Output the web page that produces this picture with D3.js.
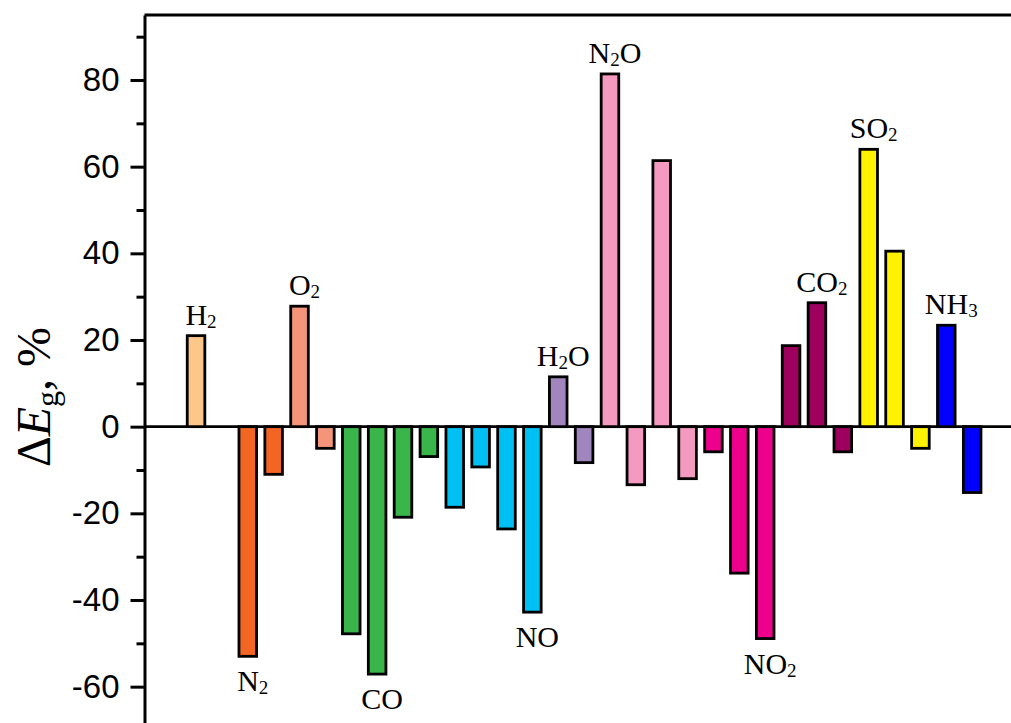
<!DOCTYPE html>
<html>
<head>
<meta charset="utf-8">
<script src="https://cdn.jsdelivr.net/npm/d3@7"></script>
<style>
  html, body { margin: 0; padding: 0; background: #fff; }
  svg { display: block; }
</style>
</head>
<body>
<svg id="chart" width="1011" height="723"></svg>
<script>
// Gas species, in plotting order ("_" marks the next character as a subscript)
const gases = ["H_2", "N_2", "O_2", "CO", "NO", "H_2O", "N_2O", "NO_2", "CO_2", "SO_2", "NH_3"];
// ΔEg (%) for each adsorption configuration of every gas (null = no bar)
const deltaEg = [
  [21.0, null],
  [-53.0, -11.0],
  [27.8, -5.0],
  [-47.8, -57.1, -20.9, -6.9],
  [-18.6, -9.3, -23.6, -42.8],
  [11.5, -8.3],
  [81.4, -13.4, 61.4, -12.0],
  [-5.8, -33.8, -48.9],
  [18.7, 28.6, -5.8],
  [64.0, 40.5, -5.0],
  [23.4, -15.2]
];
const gasColors = ["#FDC68A", "#F26522", "#F4957A", "#39B54A", "#00BFF3", "#A186BE",
                   "#F49AC1", "#EC008C", "#9E005D", "#FFF200", "#0000FF"];
const majorTicks = [-60, -40, -20, 0, 20, 40, 60, 80];
const minorTicks = [-70, -50, -30, -10, 10, 30, 50, 70, 90];

const W = 1011, H = 723;
const axisX = 144.5;
const svg = d3.select("#chart");

// one slot per bar, gases kept in sequence
const slots = [];
deltaEg.forEach((vals, g) => vals.forEach((v, k) => slots.push({ id: g + "-" + k, gas: g, k, value: v })));

const pad = 0.32;
const x = d3.scaleBand()
  .domain(slots.map(s => s.id))
  .range([183.1, 985.1])
  .paddingInner(pad)
  .paddingOuter(pad / 2);

const y = d3.scaleLinear().domain([-70, 95]).range([730, 15]);

// top frame line
svg.append("line")
  .attr("x1", axisX).attr("x2", W)
  .attr("y1", y(95)).attr("y2", y(95))
  .attr("stroke", "#000").attr("stroke-width", 3);

// zero line
svg.append("line")
  .attr("x1", axisX).attr("x2", W)
  .attr("y1", y(0)).attr("y2", y(0))
  .attr("stroke", "#000").attr("stroke-width", 2.6);

// bars
const bars = slots.filter(s => s.value !== null);
svg.append("g").selectAll("rect")
  .data(bars)
  .join("rect")
  .attr("x", d => x(d.id))
  .attr("width", x.bandwidth())
  .attr("y", d => y(Math.max(0, d.value)))
  .attr("height", d => Math.abs(y(d.value) - y(0)))
  .attr("fill", d => gasColors[d.gas])
  .attr("stroke", "#000")
  .attr("stroke-width", 2.8);

// y axis: major ticks with labels
const yAxis = svg.append("g")
  .attr("transform", `translate(${axisX},0)`)
  .call(d3.axisLeft(y).tickValues(majorTicks).tickSize(14).tickSizeOuter(0).tickPadding(11)
    .tickFormat(d => String(d)));
yAxis.select(".domain").attr("stroke-width", 3);
yAxis.selectAll(".tick line").attr("stroke-width", 3);
yAxis.selectAll(".tick text")
  .attr("font-family", "'Liberation Sans', Arial, sans-serif")
  .attr("font-size", 33)
  .attr("fill", "#000");

// minor ticks
const yMinor = svg.append("g")
  .attr("transform", `translate(${axisX},0)`)
  .call(d3.axisLeft(y).tickValues(minorTicks).tickSize(8).tickSizeOuter(0).tickFormat(""));
yMinor.select(".domain").remove();
yMinor.selectAll(".tick line").attr("stroke-width", 3);

// writes a formula such as "N_2O" into a text element with subscript tspans
function writeFormula(sel, formula, subSize, shift) {
  const parts = [];
  for (let i = 0; i < formula.length; i++) {
    if (formula[i] === "_") { parts.push({ t: formula[i + 1], sub: true }); i++; }
    else parts.push({ t: formula[i], sub: false });
  }
  let lowered = false;
  parts.forEach(p => {
    const ts = sel.append("tspan").text(p.t);
    if (p.sub && !lowered) { ts.attr("dy", shift).attr("font-size", subSize); lowered = true; }
    else if (p.sub) { ts.attr("font-size", subSize); }
    else if (lowered) { ts.attr("dy", -shift); lowered = false; }
  });
}

// gas names next to the largest-magnitude bar of each gas
gases.forEach((name, g) => {
  const own = bars.filter(b => b.gas === g);
  const peak = own.reduce((a, b) => Math.abs(b.value) > Math.abs(a.value) ? b : a);
  const cx = x(peak.id) + x.bandwidth() / 2 + 5;
  const ty = peak.value >= 0 ? y(peak.value) - 11 : y(peak.value) + 35;
  const t = svg.append("text")
    .attr("x", cx).attr("y", ty)
    .attr("text-anchor", "middle")
    .attr("font-family", "'Liberation Serif', 'Times New Roman', serif")
    .attr("font-size", 30)
    .attr("fill", "#000");
  writeFormula(t, name, 19, 3);
});

// y axis title
const title = svg.append("text")
  .attr("transform", "translate(50,397) rotate(-90)")
  .attr("text-anchor", "middle")
  .attr("font-family", "'Liberation Serif', 'Times New Roman', serif")
  .attr("font-size", 48)
  .attr("fill", "#000");
title.append("tspan").text("Δ");
title.append("tspan").attr("font-style", "italic").text("E");
title.append("tspan").attr("font-size", 32).attr("dy", 8).text("g");
title.append("tspan").attr("dy", -8).text(", %");
</script>
</body>
</html>
